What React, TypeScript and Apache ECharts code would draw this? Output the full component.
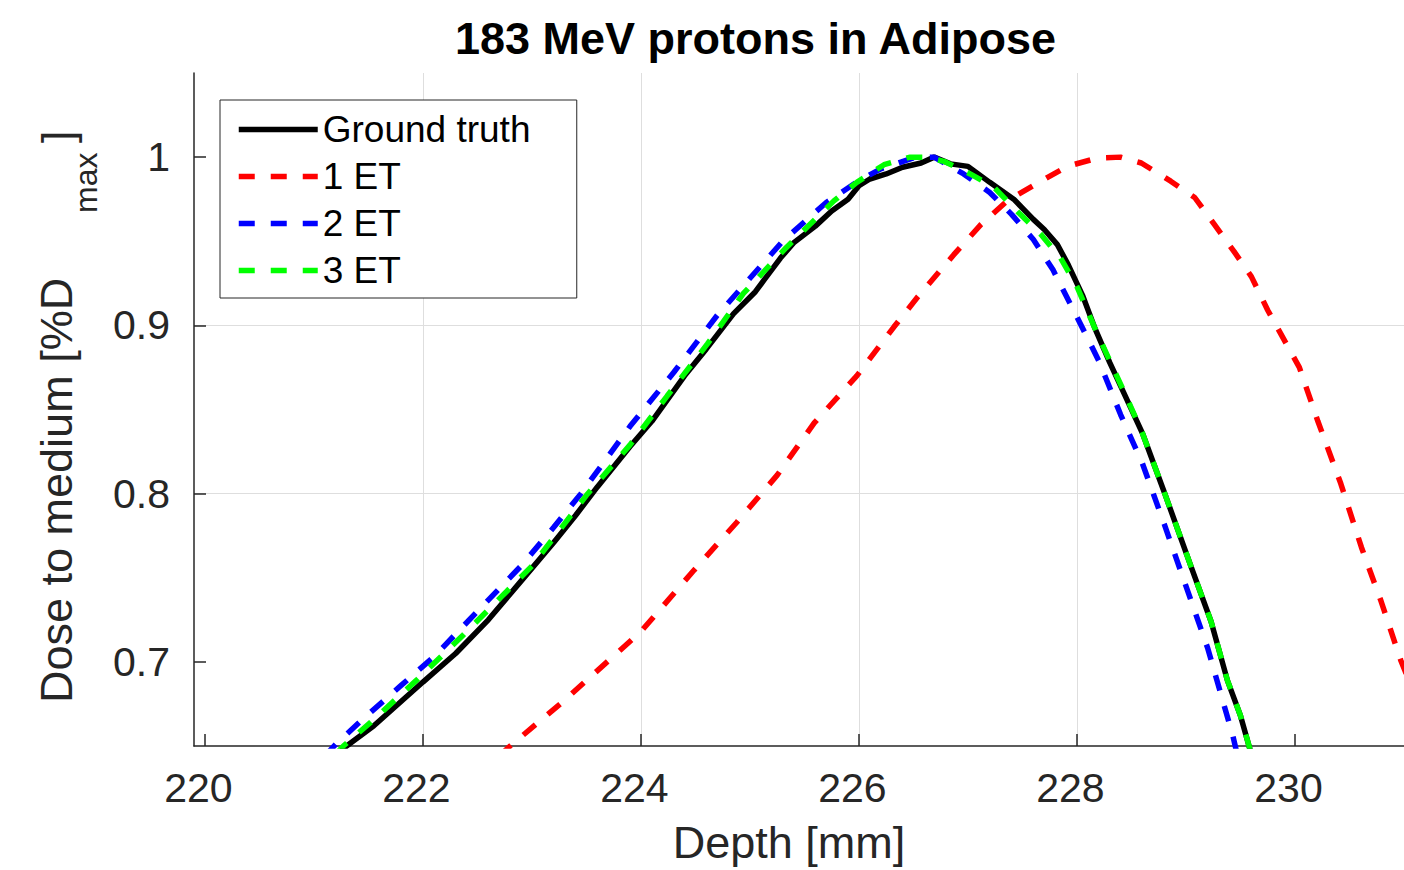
import React, { useEffect, useRef } from "react";
import * as echarts from "echarts";

const FONT = '"Liberation Sans", Arial, Helvetica, sans-serif';

const titleText = "183 MeV protons in Adipose";
const xName = "Depth [mm]";
const yNameMain = "Dose to medium [%D";
const yNameSub = "max";
const yNameEnd = "]";

const xTicks = [220, 222, 224, 226, 228, 230];
const yTicks = [0.7, 0.8, 0.9, 1];

const seriesNames = ["Ground truth", "1 ET", "2 ET", "3 ET"];
const seriesColors = ["#000000", "#ff0000", "#0000ff", "#00ff00"];

const groundDepth = [221.2, 221.3, 221.55, 222.0, 222.3, 222.6, 222.9, 223.2, 223.4, 223.6, 223.9, 224.1, 224.4, 224.6, 224.85, 225.05, 225.13, 225.28, 225.4, 225.6, 225.75, 225.9, 226.0, 226.1, 226.25, 226.4, 226.57, 226.69, 226.84, 227.0, 227.2, 227.42, 227.6, 227.7, 227.82, 227.92, 228.05, 228.16, 228.3, 228.4, 228.6, 228.8, 229.05, 229.23, 229.38, 229.5, 229.6];
const groundDose = [0.644, 0.65, 0.662, 0.688, 0.705, 0.725, 0.748, 0.771, 0.787, 0.804, 0.828, 0.843, 0.87, 0.886, 0.907, 0.92, 0.927, 0.94, 0.949, 0.959, 0.968, 0.975, 0.983, 0.987, 0.99, 0.994, 0.9965, 1.0, 0.996, 0.9945, 0.985, 0.975, 0.963, 0.957, 0.948, 0.936, 0.918, 0.899, 0.878, 0.864, 0.836, 0.801, 0.756, 0.724, 0.689, 0.668, 0.645];

const et1Depth = [222.7, 222.8, 223.26, 223.69, 224.0, 224.48, 224.88, 225.25, 225.59, 225.98, 226.32, 226.54, 226.87, 227.12, 227.36, 227.67, 227.91, 228.19, 228.4, 228.59, 228.86, 229.08, 229.26, 229.44, 229.6, 229.75, 230.04, 230.21, 230.42, 230.61, 230.79, 230.97, 231.1];
const et1Dose = [0.644, 0.65, 0.675, 0.7, 0.718, 0.754, 0.783, 0.811, 0.842, 0.87, 0.899, 0.917, 0.942, 0.96, 0.974, 0.9857, 0.9945, 0.9995, 1.0, 0.9965, 0.9857, 0.976, 0.96, 0.944, 0.929, 0.909, 0.875, 0.843, 0.806, 0.768, 0.736, 0.701, 0.68];

const et2Depth = [221.1, 221.2, 221.45, 221.8, 222.1, 222.5, 222.9, 223.2, 223.45, 223.9, 224.3, 224.7, 225.0, 225.3, 225.7, 226.0, 226.2, 226.5, 226.69, 226.96, 227.2, 227.4, 227.6, 227.78, 228.0, 228.2, 228.4, 228.6, 228.8, 229.0, 229.2, 229.43, 229.47];
const et2Dose = [0.644, 0.651, 0.666, 0.686, 0.703, 0.73, 0.757, 0.78, 0.8, 0.84, 0.872, 0.906, 0.928, 0.95, 0.973, 0.986, 0.993, 0.9995, 1.0, 0.99, 0.979, 0.966, 0.951, 0.933, 0.905, 0.879, 0.847, 0.818, 0.782, 0.745, 0.708, 0.656, 0.645];

const et3Depth = [221.2, 221.27, 221.52, 221.94, 222.37, 222.77, 223.0, 223.5, 223.9, 224.24, 224.61, 224.94, 225.33, 225.77, 225.98, 226.23, 226.47, 226.6, 226.78, 227.02, 227.24, 227.48, 227.67, 227.85, 228.0, 228.16, 228.3, 228.45, 228.6, 228.8, 229.05, 229.23, 229.38, 229.5, 229.6];
const et3Dose = [0.645, 0.65, 0.664, 0.689, 0.716, 0.742, 0.757, 0.799, 0.829, 0.858, 0.889, 0.919, 0.946, 0.974, 0.985, 0.9955, 1.0, 1.0, 0.9975, 0.99, 0.982, 0.966, 0.954, 0.94, 0.923, 0.899, 0.879, 0.858, 0.836, 0.801, 0.756, 0.724, 0.689, 0.668, 0.645];

const depths = [groundDepth, et1Depth, et2Depth, et3Depth];
const doses = [groundDose, et1Dose, et2Dose, et3Dose];

export default function App() {
  const ref = useRef<HTMLDivElement>(null);

  useEffect(() => {
    if (!ref.current) return;
    const chart = echarts.init(ref.current, null, { renderer: "svg" });

    const LW = 5.5;
    const dash = [16, 16];

    const series = seriesNames.map((name, i) => ({
      name,
      type: "line",
      data: depths[i].map((d, k) => [d, doses[i][k]]),
      symbol: "none",
      showSymbol: false,
      clip: true,
      z: 2 + i,
      lineStyle: {
        color: seriesColors[i],
        width: LW,
        type: i === 0 ? "solid" : dash,
      },
      itemStyle: { color: seriesColors[i] },
    }));

    const axisColor = "#262626";
    const gridColor = "#dedede";

    chart.setOption({
      animation: false,
      backgroundColor: "#ffffff",
      title: {
        text: titleText,
        left: 450,
        top: 11,
        padding: 5,
        textStyle: { fontFamily: FONT, fontSize: 45, fontWeight: "bold", color: "#000" },
      },
      grid: { left: 194, right: 0, top: 73, bottom: 118, containLabel: false },
      legend: {
        orient: "vertical",
        left: 220,
        top: 100,
        padding: [11, 0, 9, 16],
        itemWidth: 79,
        itemHeight: 37,
        itemGap: 10,
        backgroundColor: "#ffffff",
        borderColor: axisColor,
        borderWidth: 1,
        borderRadius: 0,
        itemStyle: { opacity: 0 },
        lineStyle: { width: LW },
        textStyle: {
          fontFamily: FONT,
          fontSize: 37,
          color: "#000",
          width: 254,
          lineHeight: 37,
        },
        data: seriesNames.map((name, i) => ({
          name,
          itemStyle: { opacity: 0 },
          lineStyle: {
            color: seriesColors[i],
            width: LW,
            type: i === 0 ? "solid" : dash,
            opacity: 1,
          },
        })),
      },
      xAxis: {
        type: "value",
        min: 219.9,
        max: 231,
        name: xName,
        nameLocation: "middle",
        nameGap: 74,
        nameTextStyle: {
          fontFamily: FONT,
          fontSize: 45,
          color: axisColor,
          padding: [0, 20, 0, 0],
        },
        axisLine: { show: true, onZero: false, lineStyle: { color: axisColor, width: 1.5 } },
        axisTick: { show: true, inside: true, length: 12, customValues: xTicks, lineStyle: { color: axisColor, width: 1.5 } },
        axisLabel: {
          customValues: xTicks,
          margin: 21,
          fontFamily: FONT,
          fontSize: 41,
          color: axisColor,
          padding: [0, 13, 0, 0],
        },
        splitLine: { show: true, showMinLine: false, showMaxLine: false, lineStyle: { color: gridColor, width: 1 } },
      },
      yAxis: {
        type: "value",
        min: 0.65,
        max: 1.05,
        axisLine: { show: true, onZero: false, lineStyle: { color: axisColor, width: 1.5 } },
        axisTick: { show: true, inside: true, length: 12, customValues: yTicks, lineStyle: { color: axisColor, width: 1.5 } },
        axisLabel: {
          customValues: yTicks,
          margin: 24,
          fontFamily: FONT,
          fontSize: 41,
          color: axisColor,
          formatter: (v: number) => String(Math.round(v * 10) / 10),
        },
        splitLine: { show: true, showMinLine: false, showMaxLine: false, lineStyle: { color: gridColor, width: 1 } },
      },
      graphic: [
        {
          type: "text",
          x: 56,
          y: 703,
          rotation: Math.PI / 2,
          style: {
            text: yNameMain,
            fontFamily: FONT,
            fontSize: 45,
            fill: axisColor,
            align: "left",
            verticalAlign: "middle",
            textAlign: "left",
            textVerticalAlign: "middle",
          },
        },
        {
          type: "text",
          x: 86,
          y: 213,
          rotation: Math.PI / 2,
          style: {
            text: yNameSub,
            fontFamily: FONT,
            fontSize: 32,
            fill: axisColor,
            align: "left",
            verticalAlign: "middle",
            textAlign: "left",
            textVerticalAlign: "middle",
          },
        },
        {
          type: "text",
          x: 57,
          y: 143,
          rotation: Math.PI / 2,
          style: {
            text: yNameEnd,
            fontFamily: FONT,
            fontSize: 45,
            fill: axisColor,
            align: "left",
            verticalAlign: "middle",
            textAlign: "left",
            textVerticalAlign: "middle",
          },
        },
      ],
      series,
    });

    return () => chart.dispose();
  }, []);

  return (
    <div
      ref={ref}
      style={{ position: "absolute", left: 0, top: 0, width: 1404, height: 870 }}
    />
  );
}
